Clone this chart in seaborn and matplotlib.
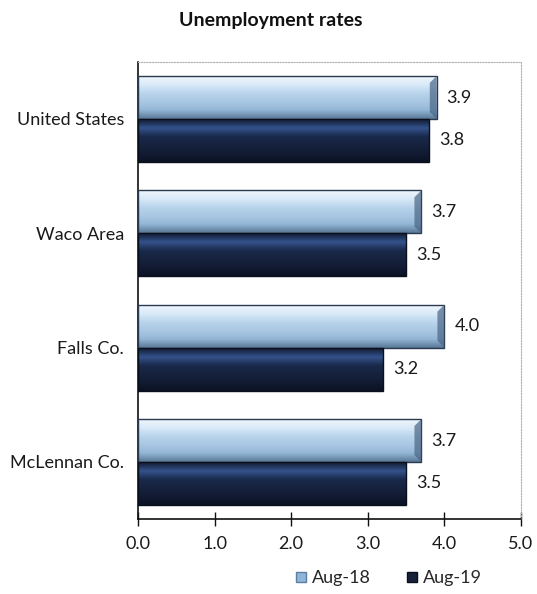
import numpy as np
import pandas as pd
import matplotlib
matplotlib.use("Agg")
import matplotlib.pyplot as plt
from matplotlib.colors import LinearSegmentedColormap
from matplotlib.lines import Line2D
import seaborn as sns

# Unemployment rates (%) by area
areas = ["United States", "Waco Area", "Falls Co.", "McLennan Co."]
aug18 = [3.9, 3.7, 4.0, 3.7]
aug19 = [3.8, 3.5, 3.2, 3.5]
periods = ["Aug-18", "Aug-19"]

df = pd.DataFrame({
    "area": areas * 2,
    "rate": aug18 + aug19,
    "period": [periods[0]] * len(areas) + [periods[1]] * len(areas),
})

sns.set_theme(style="white")
plt.rcParams["font.family"] = ["Lato", "DejaVu Sans"]

fig = plt.figure(figsize=(5.37, 5.94), dpi=100)
ax = fig.add_axes([0.257, 0.126, 0.713, 0.770])

light = "#b6d2ec"
dark = "#17223a"
sns.barplot(data=df, x="rate", y="area", hue="period", orient="h",
            hue_order=periods, palette=[light, dark], width=0.75,
            edgecolor="none", legend=False, ax=ax)

# Bevelled shading for each bar, clipped to the bar shape
light_cmap = LinearSegmentedColormap.from_list(
    "light", ["#eef6fd", "#d9eaf8", "#b9d4ec", "#a9c7e3", "#93b6d6", "#5a7896"])
dark_cmap = LinearSegmentedColormap.from_list(
    "dark", ["#101a30", "#34538c", "#1a2a4c", "#16223e", "#121b33", "#0b1224"])
grad = np.linspace(0, 1, 64).reshape(-1, 1)
n = len(areas)
for i, p in enumerate(ax.patches[:2 * n]):
    x0, y0 = p.get_x(), p.get_y()
    w, h = p.get_width(), p.get_height()
    cmap = light_cmap if i < n else dark_cmap
    im = ax.imshow(grad, cmap=cmap, aspect="auto",
                   extent=[x0, x0 + w, y0 + h, y0], zorder=2,
                   interpolation="bilinear")
    im.set_clip_path(p)
    edge = "#2a3a50" if i < n else "#0a0f1c"
    ax.add_patch(plt.Rectangle((x0, y0), w, h, fill=False,
                               edgecolor=edge, linewidth=1.0, zorder=3))
    if i < n:
        # darker bevel at the bar's end
        ax.add_patch(plt.Polygon([[x0 + w - 0.09, y0 + 0.06 * h / 0.375],
                                  [x0 + w, y0], [x0 + w, y0 + h],
                                  [x0 + w - 0.09, y0 + h - 0.06 * h / 0.375]],
                                 closed=True, facecolor="#4a6585",
                                 edgecolor="none", alpha=0.7, zorder=3))
    ax.text(x0 + w + 0.13, y0 + h / 2, f"{w:.1f}", va="center", ha="left",
            fontsize=13, color="#1a1a1a", zorder=4)

ax.set_xlim(0, 5)
ax.set_ylim(n - 0.5, -0.5)
ax.set_xticks(np.arange(0, 5.01, 1.0))
ax.set_xticklabels([f"{v:.1f}" for v in np.arange(0, 5.01, 1.0)])
ax.set_xlabel("")
ax.set_ylabel("")
ax.tick_params(axis="x", direction="inout", length=10, width=1,
               color="#111111", labelsize=13, pad=7, bottom=True)
ax.tick_params(axis="y", length=0, labelsize=13, pad=10)
for lbl in ax.get_xticklabels() + ax.get_yticklabels():
    lbl.set_color("#1a1a1a")

for side in ["left", "bottom"]:
    ax.spines[side].set_color("#111111")
    ax.spines[side].set_linewidth(1.2)
for side in ["top", "right"]:
    ax.spines[side].set_color("#b0b0b0")
    ax.spines[side].set_linestyle((0, (1, 1.5)))
    ax.spines[side].set_linewidth(0.8)

fig.text(0.505, 0.966, "Unemployment rates", ha="center", va="center",
         fontsize=14, fontweight="bold", color="#111111")

handles = [Line2D([0], [0], marker="s", linestyle="none", markersize=7,
                  markerfacecolor="#8fb6d9", markeredgecolor="#5d7f9f"),
           Line2D([0], [0], marker="s", linestyle="none", markersize=7,
                  markerfacecolor=dark, markeredgecolor="#0a0f1c")]
fig.legend(handles, periods, loc="center", bbox_to_anchor=(0.72, 0.027),
           ncol=2, frameon=False, fontsize=13, handletextpad=0.1,
           columnspacing=1.8, handlelength=1.0)

fig.savefig("out.png", dpi=100, facecolor="white")
